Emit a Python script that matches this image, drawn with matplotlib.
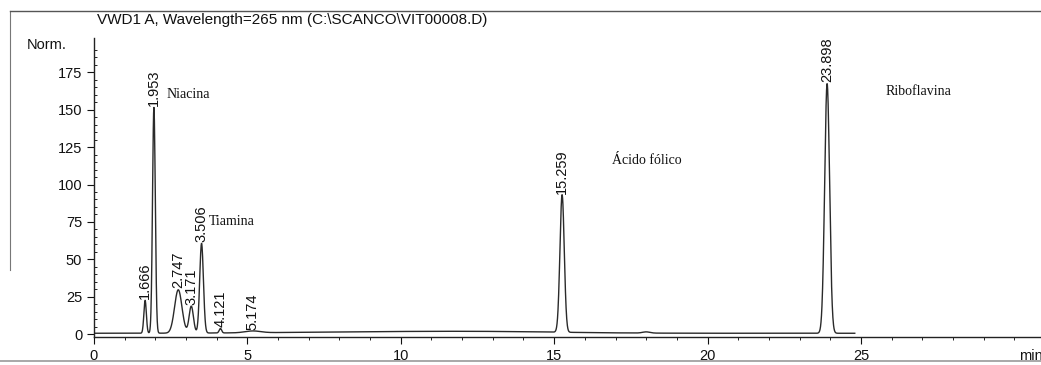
import numpy as np
import matplotlib.pyplot as plt
from matplotlib.lines import Line2D

# Peak table (retention time, height, sigma in min)
peak_rt = [1.666, 1.953, 2.747, 3.171, 3.506, 4.121, 5.174, 15.259, 23.898]
peak_height = [22, 151, 29, 18, 60, 3, 1.2, 92, 167]
peak_sigma = [0.04, 0.045, 0.12, 0.07, 0.06, 0.04, 0.25, 0.07, 0.08]
peak_labels = ["1.666", "1.953", "2.747", "3.171", "3.506", "4.121", "5.174", "15.259", "23.898"]

# slow baseline drift / small bumps
drift_rt = [9.0, 13.0, 18.0]
drift_height = [0.8, 0.9, 0.8]
drift_sigma = [3.0, 2.5, 0.12]

compound_names = ["Niacina", "Tiamina", "Ácido fólico", "Riboflavina"]
compound_x = [2.35, 3.75, 16.9, 25.8]
compound_y = [160, 75, 116, 162]

title = "VWD1 A, Wavelength=265 nm (C:\\SCANCO\\VIT00008.D)"

plt.rcParams['font.family'] = ['Liberation Sans', 'DejaVu Sans']

fig = plt.figure(figsize=(10.41, 3.65), dpi=100)
ax = fig.add_axes([94 / 1041, 28 / 365, 1 - 94 / 1041, 299 / 365])

t = np.linspace(0, 31, 6000)
signal = np.zeros_like(t) + 0.5
for rt, h, s in zip(peak_rt + drift_rt, peak_height + drift_height, peak_sigma + drift_sigma):
    signal += h * np.exp(-0.5 * ((t - rt) / s) ** 2)
signal[t > 24.8] = np.nan  # run ends before 25 min

ax.plot(t, signal, color='#2a2a2a', lw=1.0)

for rt, h, lab in zip(peak_rt, peak_height, peak_labels):
    ax.text(rt, h + 1.5, lab, rotation=90, ha='center', va='bottom', fontsize=10.5, color='#111111')

for name, x, y in zip(compound_names, compound_x, compound_y):
    ax.text(x, y, name, fontsize=10, family=['Liberation Serif', 'DejaVu Serif'],
            va='center', ha='left', color='#111111')

ax.set_xlim(0, 30.87)
ax.set_ylim(-2, 198)
ax.set_xticks([0, 5, 10, 15, 20, 25])
ax.set_xticks(np.arange(0, 31, 1), minor=True)
ax.set_yticks([0, 25, 50, 75, 100, 125, 150, 175])
ax.set_yticks(np.arange(0, 195, 5), minor=True)
ax.tick_params(labelsize=10.5, colors='#111111', direction='out')
ax.tick_params(axis='y', which='major', length=5)
ax.tick_params(axis='y', which='minor', length=2.5, direction='in')
ax.tick_params(axis='x', which='major', length=5)
ax.tick_params(axis='x', which='minor', length=2.5)
for side in ['top', 'right']:
    ax.spines[side].set_visible(False)
ax.spines['left'].set_bounds(-2, 198)
for side in ['left', 'bottom']:
    ax.spines[side].set_color('#222222')
    ax.spines[side].set_linewidth(1.0)
ax.patch.set_alpha(0)

ax.text(-0.9, 193, "Norm.", ha='right', va='center', fontsize=10.5, color='#111111')
fig.text(97 / 1041, 1 - 20 / 365, title, ha='left', va='center', fontsize=11, color='#111111')
fig.text(1019 / 1041, 1 - 356 / 365, "min", ha='left', va='center', fontsize=10.5, color='#111111')

# scanned page frame
fig.add_artist(Line2D([10 / 1041, 10 / 1041], [1 - 11 / 365, 1 - 270 / 365], color='#777777', lw=0.8))
fig.add_artist(Line2D([10 / 1041, 1], [1 - 11 / 365, 1 - 11 / 365], color='#555555', lw=1.0))
fig.add_artist(Line2D([0, 1], [1 - 361 / 365, 1 - 361 / 365], color='#999999', lw=1.2))

fig.savefig("out.png", dpi=100)
